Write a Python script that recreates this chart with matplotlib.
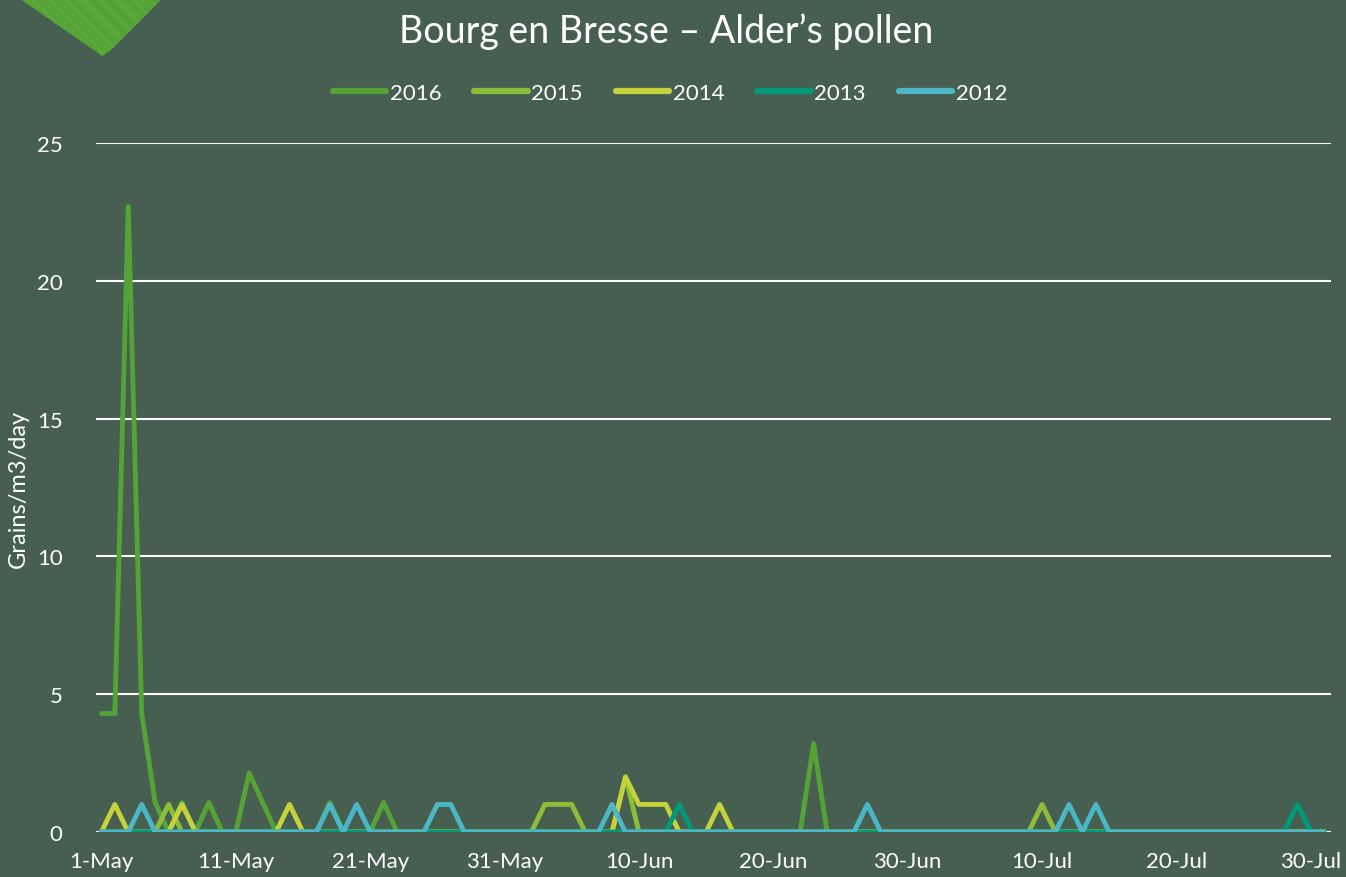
import numpy as np
import matplotlib
matplotlib.use('Agg')
import matplotlib.pyplot as plt
from matplotlib.patches import Polygon

# daily values, 1-May .. 31-Jul (92 days), only non-zero days listed
n_days = 92
tick_labels = ['1-May', '11-May', '21-May', '31-May', '10-Jun', '20-Jun',
               '30-Jun', '10-Jul', '20-Jul', '30-Jul']
years = ['2016', '2015', '2014', '2013', '2012']

pollen_2016 = {0: 4.3, 1: 4.3, 2: 22.7, 3: 4.3, 4: 1.07, 6: 1.07, 8: 1.07,
               11: 2.14, 12: 1.07, 17: 1.07, 21: 1.07, 53: 3.21}
pollen_2015 = {5: 1, 33: 1, 34: 1, 35: 1, 39: 2, 70: 1}
pollen_2014 = {1: 1, 6: 1, 14: 1, 39: 2, 40: 1, 41: 1, 42: 1, 46: 1}
pollen_2013 = {43: 1, 89: 1}
pollen_2012 = {3: 1, 17: 1, 19: 1, 25: 1, 26: 1, 38: 1, 57: 1, 72: 1, 74: 1}

colors = ['#55a337', '#8dbd38', '#c4d33c', '#00997a', '#4bb6c6']
bg = '#465f51'

def series(d):
    v = np.zeros(n_days)
    for k, val in d.items():
        v[k] = val
    return v

data = [series(pollen_2016), series(pollen_2015), series(pollen_2014),
        series(pollen_2013), series(pollen_2012)]

plt.rcParams['font.family'] = ['Lato', 'DejaVu Sans']

fig = plt.figure(figsize=(13.46, 8.78), dpi=100, facecolor=bg)
ax = fig.add_axes([96/1346, 45/878, 1235/1346, 689/878], facecolor=bg)

# decorative chevron top-left
tri = Polygon([[20/1346, 1.0], [162/1346, 1.0], [110/1346, 1 - 52/878],
               [102/1346, 1 - 57/878], [95/1346, 1 - 52/878]],
              closed=True, transform=fig.transFigure, facecolor='#56a438',
              edgecolor='#60ad40', hatch='\\\\', linewidth=0, zorder=0)
fig.patches.append(tri)

days = np.arange(n_days)
for y, vals, c in zip(years, data, colors):
    ax.plot(days, vals, color=c, lw=3.5, label=y,
            solid_joinstyle='round', solid_capstyle='round', zorder=3)

ax.set_xlim(-0.4, 91.5)
ax.set_ylim(0, 25)
ax.set_yticks(np.arange(0, 26, 5))
ax.set_xticks(np.arange(0, 91, 10))
ax.set_xticklabels(tick_labels)
ax.grid(axis='y', color='white', lw=1.5, zorder=1)
ax.tick_params(colors='white', labelsize=16, length=0, pad=14)
ax.tick_params(axis='y', pad=24)
for s in ax.spines.values():
    s.set_visible(False)

ax.set_ylabel('Grains/m3/day', color='white', fontsize=17, labelpad=6)

fig.text(666/1346, 1 - 32/878, 'Bourg en Bresse \u2013 Alder\u2019s pollen',
         color='white', fontsize=27, ha='center', va='center')

leg = fig.legend(loc='center', bbox_to_anchor=(670/1346, 1 - 94/878), ncol=5,
                 frameon=False, fontsize=16, handlelength=2.4,
                 handletextpad=0.15, columnspacing=1.5)
for t in leg.get_texts():
    t.set_color('white')
for l in leg.get_lines():
    l.set_linewidth(4.5)

fig.savefig('out.png', dpi=100, facecolor=bg)
